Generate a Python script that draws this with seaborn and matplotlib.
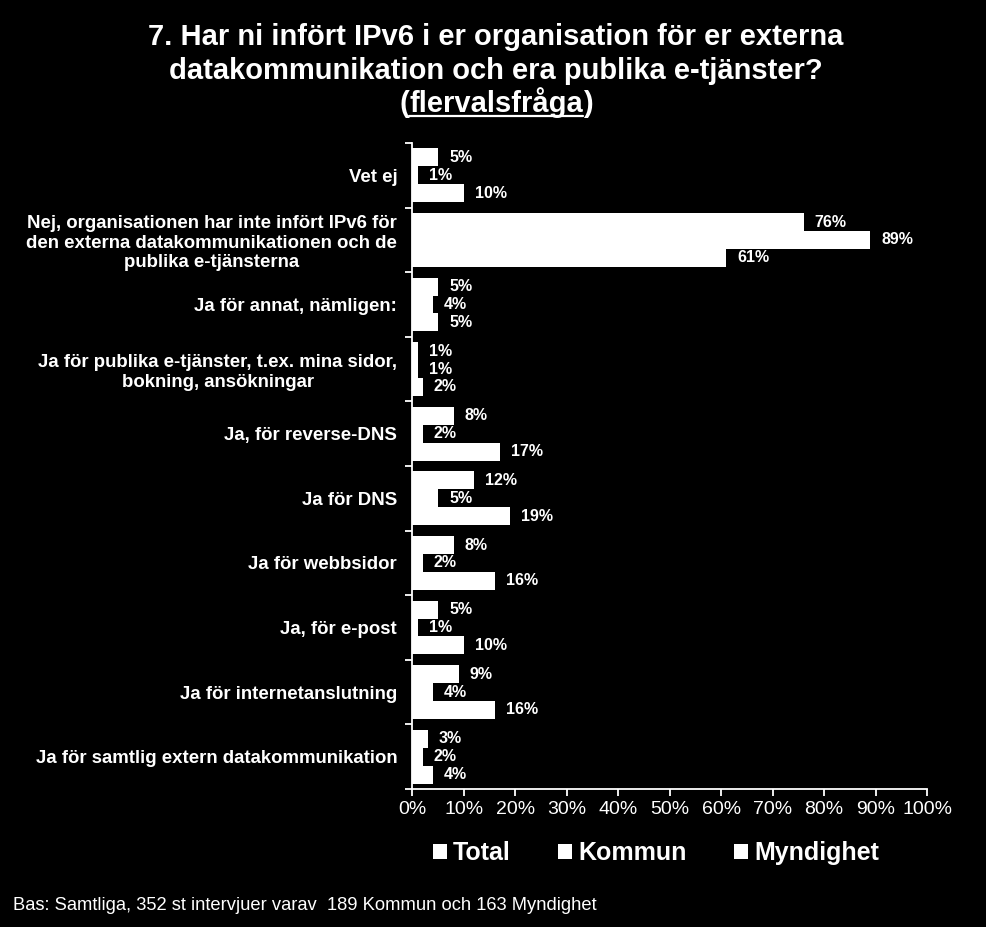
import matplotlib
matplotlib.use("Agg")
import matplotlib.pyplot as plt
from matplotlib.lines import Line2D
import seaborn as sns
import pandas as pd

categories = [
    "Vet ej",
    "Nej, organisationen har inte infört IPv6 för\nden externa datakommunikationen och de\npublika e-tjänsterna",
    "Ja för annat, nämligen:",
    "Ja för publika e-tjänster, t.ex. mina sidor,\nbokning, ansökningar",
    "Ja, för reverse-DNS",
    "Ja för DNS",
    "Ja för webbsidor",
    "Ja, för e-post",
    "Ja för internetanslutning",
    "Ja för samtlig extern datakommunikation",
]
series = ["Total", "Kommun", "Myndighet"]
total = [5, 76, 5, 1, 8, 12, 8, 5, 9, 3]
kommun = [1, 89, 4, 1, 2, 5, 2, 1, 4, 2]
myndighet = [10, 61, 5, 2, 17, 19, 16, 10, 16, 4]
xticks = [0, 10, 20, 30, 40, 50, 60, 70, 80, 90, 100]
xtick_labels = [f"{t}%" for t in xticks]

title_lines = [
    "7. Har ni infört IPv6 i er organisation för er externa",
    "datakommunikation och era publika e-tjänster?",
]
title_word = "flervalsfråga"
footer = "Bas: Samtliga, 352 st intervjuer varav  189 Kommun och 163 Myndighet"

rows = []
for name, vals in zip(series, [total, kommun, myndighet]):
    for c, v in zip(categories, vals):
        rows.append({"kategori": c, "andel": v, "grupp": name})
df = pd.DataFrame(rows)

sns.set_theme(style="ticks")
FONT = ["Liberation Sans", "DejaVu Sans"]
plt.rcParams["font.family"] = FONT
plt.rcParams["figure.facecolor"] = "black"
plt.rcParams["axes.facecolor"] = "black"

W, H = 987, 927
fig = plt.figure(figsize=(W / 100, H / 100), dpi=100)
ax = fig.add_axes([412.5 / W, 1 - 789 / H, (927 - 412.5) / W, (789 - 143) / H])

sns.barplot(data=df, y="kategori", x="andel", hue="grupp", orient="h",
            palette=["white"] * 3, width=0.83, saturation=1, linewidth=0,
            ax=ax, legend=True)

for cont in ax.containers:
    ax.bar_label(cont, fmt="%g%%", padding=8, color="white",
                 fontsize=11.5, fontweight="bold")

ax.set_xlim(0, 100)
ax.set_ylim(len(categories) - 0.5, -0.5)
ax.set_xticks(xticks)
ax.set_xticklabels(xtick_labels, fontsize=14, color="white")
ax.set_yticks(range(len(categories)))
ax.set_yticklabels(categories, fontsize=13.4, fontweight="bold", color="white",
                   multialignment="center")
ax.set_yticks([i - 0.5 for i in range(len(categories) + 1)], minor=True)
ax.tick_params(axis="y", which="major", length=0, pad=11)
ax.tick_params(axis="y", which="minor", length=5, width=1.3, color="white")
ax.tick_params(axis="x", length=5, width=1.3, color="white", pad=4)
ax.set_xlabel("")
ax.set_ylabel("")
for s in ["top", "right"]:
    ax.spines[s].set_visible(False)
for s in ["left", "bottom"]:
    ax.spines[s].set_color("white")
    ax.spines[s].set_linewidth(1.3)
ax.grid(False)

handles, labels = ax.get_legend_handles_labels()
ax.legend(handles, labels, loc="center", bbox_to_anchor=(656 / W, 1 - 853 / H),
          bbox_transform=fig.transFigure, ncol=3, frameon=False,
          prop={"family": FONT, "weight": "bold", "size": 18},
          labelcolor="white", handlelength=0.55, handleheight=0.55,
          handletextpad=0.25, columnspacing=1.9)

cx = 496 / W
tkw = dict(color="white", fontsize=21, fontweight="bold", ha="center", va="baseline")
fig.text(cx, 1 - 45 / H, title_lines[0], **tkw)
fig.text(cx, 1 - 79 / H, title_lines[1], **tkw)

y3 = 1 - 112 / H
t1 = fig.text(0, y3, "(", **{**tkw, "ha": "left"})
t2 = fig.text(0, y3, title_word, **{**tkw, "ha": "left"})
t3 = fig.text(0, y3, ")", **{**tkw, "ha": "left"})
fig.canvas.draw()
r = fig.canvas.get_renderer()
w1 = t1.get_window_extent(r).width
w2 = t2.get_window_extent(r).width
w3 = t3.get_window_extent(r).width
x0 = cx * W - (w1 + w2 + w3) / 2
t1.set_x(x0 / W)
t2.set_x((x0 + w1) / W)
t3.set_x((x0 + w1 + w2) / W)
uy = y3 - 4 / H
fig.add_artist(Line2D([(x0 + w1) / W, (x0 + w1 + w2) / W], [uy, uy],
                      transform=fig.transFigure, color="white", linewidth=1.6))

fig.text(13 / W, 1 - 906 / H, footer, color="white", fontsize=13.2,
         ha="left", va="center")

fig.savefig("out.png", dpi=100, facecolor="black")
